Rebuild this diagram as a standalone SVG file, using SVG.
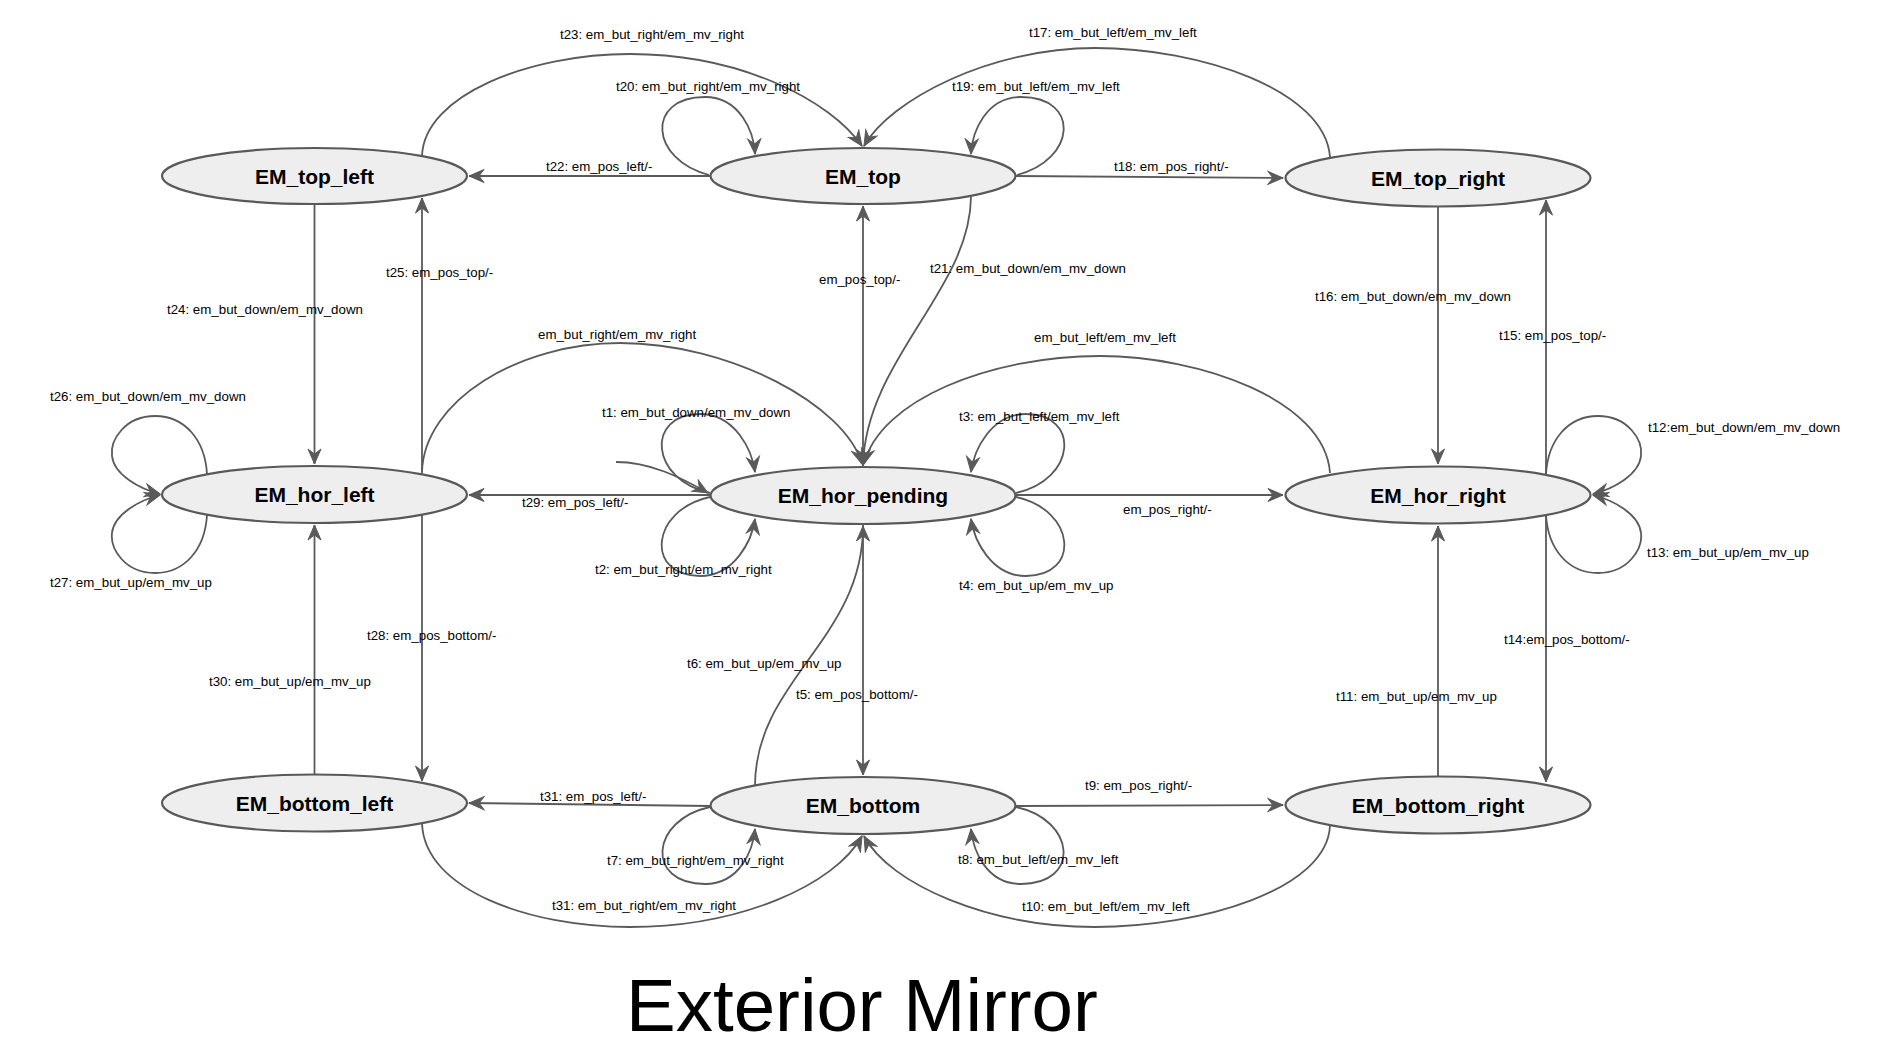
<svg xmlns="http://www.w3.org/2000/svg" width="1887" height="1045" viewBox="0 0 1887 1045">
<style>
.node ellipse{fill:#eeeeee;stroke:#595959;stroke-width:2.2}
.node text{font-family:"Liberation Sans",Arial,sans-serif;font-weight:bold;font-size:21px;fill:#000;text-anchor:middle}
.edges path{fill:none;stroke:#5a5a5a;stroke-width:1.8;marker-end:url(#arr)}
.lbl text{font-family:"Liberation Sans",Arial,sans-serif;font-size:13.3px;fill:#000}
.title{font-family:"Liberation Sans",Arial,sans-serif;font-size:74.5px;fill:#000}
</style>
<defs>
<marker id="arr" viewBox="-16 -8 17 16" refX="0" refY="0" markerWidth="17" markerHeight="16" markerUnits="userSpaceOnUse" orient="auto">
<path d="M0,0 L-15,-6.5 L-10,0 L-15,6.5 Z" fill="#5a5a5a" stroke="#5a5a5a" stroke-width="1" stroke-linejoin="miter"/>
</marker>
</defs>
<rect width="1887" height="1045" fill="#ffffff"/>
<g id="edges" class="edges">
<path id="t23" d="M422,156 C424,95 530,54 630,54 C740,54 830,100 862,146"/>
<path id="t17" d="M1330,157 C1325,90 1200,48 1095,48 C990,48 890,100 864,146"/>
<path id="t20" d="M709,175 C650,160 645,97 705,97 C740,97 754,132 755,154"/>
<path id="t19" d="M1017,175 C1076,160 1081,97 1021,97 C986,97 972,132 971,154"/>
<path id="t22" d="M710,176 L469,176"/>
<path id="t18" d="M1016,176 L1283,178"/>
<path id="t24" d="M314.5,204 L314.5,464"/>
<path id="t25" d="M422,474 L422,198"/>
<path id="pos_top" d="M863,466 L863,206"/>
<path id="t21" d="M971,197 C970,290 866,360 863,465"/>
<path id="t16" d="M1438,207 L1438,464"/>
<path id="t15" d="M1546,475 L1546,200"/>
<path id="but_right" d="M422,472 C424,400 520,343 620,343 C730,343 845,405 862,464"/>
<path id="but_left" d="M1330,473 C1325,400 1200,356 1100,356 C990,356 880,400 864,464"/>
<path id="t1" d="M710,493 C650,480 645,414 700,414 C735,414 752,450 755,472"/>
<path id="t2" d="M710,497 C650,510 645,576 700,576 C735,576 752,540 755,519"/>
<path id="t3" d="M1016,493 C1076,480 1081,414 1026,414 C991,414 974,450 971,472"/>
<path id="t4" d="M1016,497 C1076,510 1081,576 1026,576 C991,576 974,540 971,519"/>
<path id="init" d="M616,462 C650,462 680,477 708,493"/>
<path id="t29" d="M710,495 L469,495"/>
<path id="pos_right" d="M1016,495 L1283,495"/>
<path id="t26" d="M207,474 C205,440 185,416 155,416 C125,416 110,440 112,456 C114,475 140,489 160,494"/>
<path id="t27" d="M207,515 C205,549 185,573 155,573 C125,573 110,549 112,533 C114,514 140,500 160,495"/>
<path id="t12" d="M1546,474 C1548,440 1568,416 1598,416 C1628,416 1643,440 1641,456 C1639,475 1613,489 1593,494"/>
<path id="t13" d="M1546,515 C1548,549 1568,573 1598,573 C1628,573 1643,549 1641,533 C1639,514 1613,500 1593,495"/>
<path id="t28" d="M422,515 L422,781"/>
<path id="t30" d="M314.5,775 L314.5,525"/>
<path id="t5" d="M863,524 L863,775"/>
<path id="t6" d="M755,786 C755,680 863,640 863,526"/>
<path id="t11" d="M1438,777 L1438,526"/>
<path id="t14" d="M1546,515 L1546,782"/>
<path id="t31a" d="M710,806 L469,803"/>
<path id="t9" d="M1016,806 L1283,805"/>
<path id="t7" d="M710,807 C650,820 645,884 705,884 C740,884 753,850 755,829"/>
<path id="t8" d="M1016,807 C1076,820 1081,884 1021,884 C986,884 973,850 971,829"/>
<path id="t31b" d="M422,823 C424,890 530,927 630,927 C740,927 835,885 862,836"/>
<path id="t10" d="M1330,825 C1328,890 1200,927 1095,927 C990,927 890,885 864,836"/>
</g>
<g id="labels" class="lbl">
<text x="560" y="39">t23: em_but_right/em_mv_right</text>
<text x="616" y="91">t20: em_but_right/em_mv_right</text>
<text x="952" y="91">t19: em_but_left/em_mv_left</text>
<text x="1029" y="37">t17: em_but_left/em_mv_left</text>
<text x="546" y="171">t22: em_pos_left/-</text>
<text x="1114" y="171">t18: em_pos_right/-</text>
<text x="167" y="314">t24: em_but_down/em_mv_down</text>
<text x="386" y="277">t25: em_pos_top/-</text>
<text x="819" y="284">em_pos_top/-</text>
<text x="930" y="273">t21: em_but_down/em_mv_down</text>
<text x="538" y="339">em_but_right/em_mv_right</text>
<text x="1034" y="342">em_but_left/em_mv_left</text>
<text x="1315" y="301">t16: em_but_down/em_mv_down</text>
<text x="1499" y="340">t15: em_pos_top/-</text>
<text x="50" y="401">t26: em_but_down/em_mv_down</text>
<text x="602" y="417">t1: em_but_down/em_mv_down</text>
<text x="959" y="421">t3: em_but_left/em_mv_left</text>
<text x="1648" y="432">t12:em_but_down/em_mv_down</text>
<text x="522" y="507">t29: em_pos_left/-</text>
<text x="1123" y="514">em_pos_right/-</text>
<text x="1647" y="557">t13: em_but_up/em_mv_up</text>
<text x="595" y="574">t2: em_but_right/em_mv_right</text>
<text x="959" y="590">t4: em_but_up/em_mv_up</text>
<text x="50" y="587">t27: em_but_up/em_mv_up</text>
<text x="367" y="640">t28: em_pos_bottom/-</text>
<text x="1504" y="644">t14:em_pos_bottom/-</text>
<text x="687" y="668">t6: em_but_up/em_mv_up</text>
<text x="209" y="686">t30: em_but_up/em_mv_up</text>
<text x="796" y="699">t5: em_pos_bottom/-</text>
<text x="1336" y="701">t11: em_but_up/em_mv_up</text>
<text x="1085" y="790">t9: em_pos_right/-</text>
<text x="540" y="801">t31: em_pos_left/-</text>
<text x="958" y="864">t8: em_but_left/em_mv_left</text>
<text x="607" y="865">t7: em_but_right/em_mv_right</text>
<text x="552" y="910">t31: em_but_right/em_mv_right</text>
<text x="1022" y="911">t10: em_but_left/em_mv_left</text>
</g>
<g id="EM_top_left" class="node"><ellipse cx="314.5" cy="176" rx="152.5" ry="28"/><text x="314.5" y="183.5">EM_top_left</text></g>
<g id="EM_top" class="node"><ellipse cx="863" cy="176" rx="152.5" ry="28"/><text x="863" y="183.5">EM_top</text></g>
<g id="EM_top_right" class="node"><ellipse cx="1438" cy="178" rx="152.5" ry="28.5"/><text x="1438" y="185.5">EM_top_right</text></g>
<g id="EM_hor_left" class="node"><ellipse cx="314.5" cy="494.5" rx="152.5" ry="28.5"/><text x="314.5" y="502">EM_hor_left</text></g>
<g id="EM_hor_pending" class="node"><ellipse cx="863" cy="495.5" rx="152.5" ry="28.5"/><text x="863" y="503">EM_hor_pending</text></g>
<g id="EM_hor_right" class="node"><ellipse cx="1438" cy="495" rx="152.5" ry="28.5"/><text x="1438" y="502.5">EM_hor_right</text></g>
<g id="EM_bottom_left" class="node"><ellipse cx="314.5" cy="803" rx="152.5" ry="28.5"/><text x="314.5" y="810.5">EM_bottom_left</text></g>
<g id="EM_bottom" class="node"><ellipse cx="863" cy="805.5" rx="152.5" ry="28.5"/><text x="863" y="813">EM_bottom</text></g>
<g id="EM_bottom_right" class="node"><ellipse cx="1438" cy="805" rx="152.5" ry="28.5"/><text x="1438" y="812.5">EM_bottom_right</text></g>
<text class="title" x="626" y="1031">Exterior Mirror</text>
</svg>
